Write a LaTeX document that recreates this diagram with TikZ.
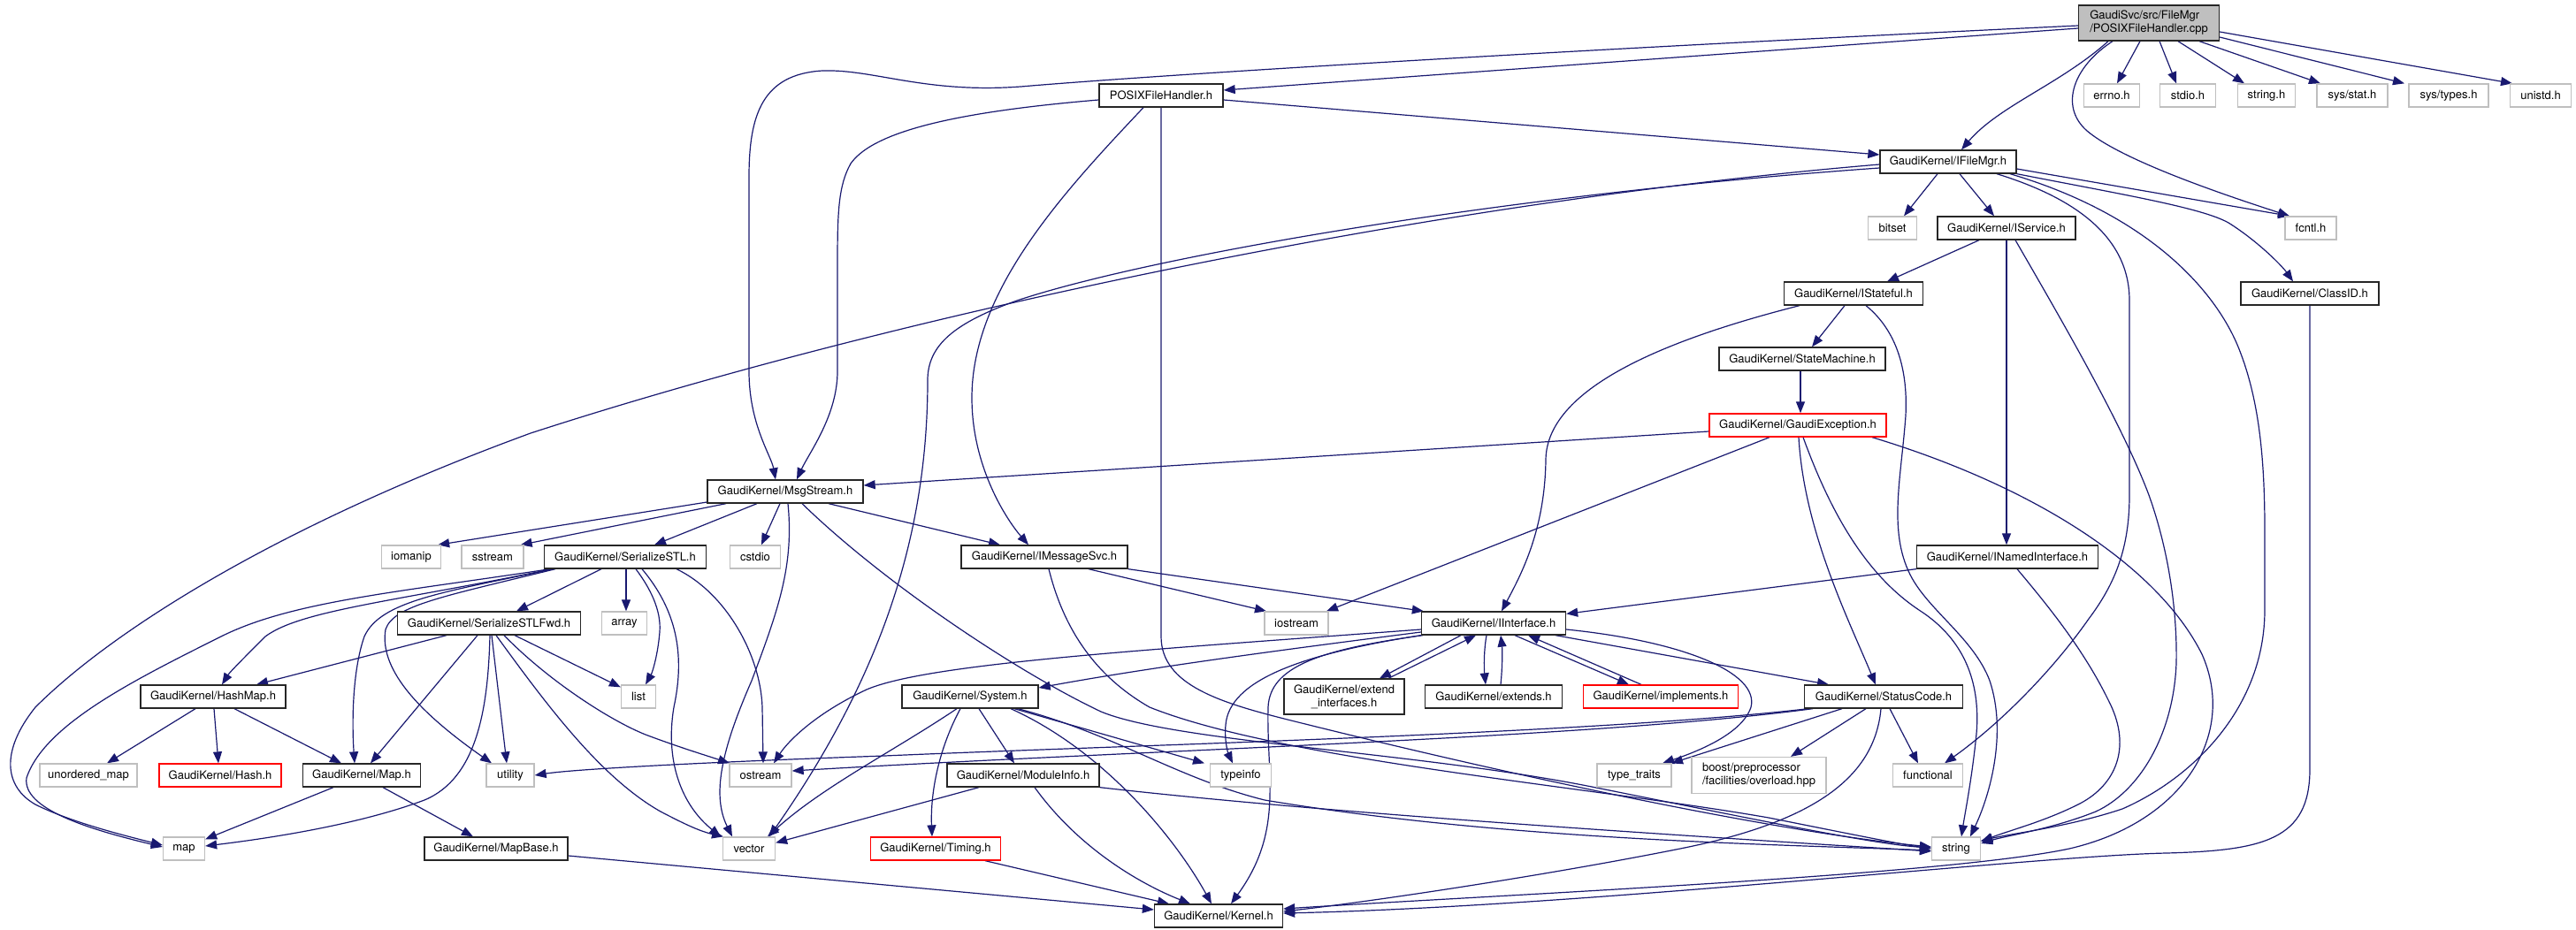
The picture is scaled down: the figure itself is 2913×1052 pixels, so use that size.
\documentclass[tikz,border=0pt]{standalone}
\usepackage{fontspec}
\setmainfont{TeX Gyre Heros}
\usetikzlibrary{arrows.meta}
\definecolor{edgec}{HTML}{191970}
\definecolor{sysbd}{HTML}{BFBFBF}
\definecolor{rootfill}{HTML}{BFBFBF}
\definecolor{redbd}{HTML}{FF0000}
\pgfdeclarelayer{bg}
\pgfsetlayers{bg,main}
\begin{document}
\begin{tikzpicture}[x=1pt,y=-1pt,
  box/.style={draw, line width=1.3pt, inner sep=0pt, minimum height=26pt, fill=white,
    font=\fontsize{13}{15}\selectfont, text=black},
  blk/.style={box, draw=black!85},
  sys/.style={box, draw=sysbd},
  redbox/.style={box, draw=redbd},
  rootbox/.style={box, draw=black!85, fill=rootfill},
  dep/.style={draw=edgec, line width=1.2pt, -{Triangle[length=13pt,width=10pt]}}
]
\useasboundingbox (0,0) rectangle (2913,1052);
\begin{pgfonlayer}{bg}
\fill[white] (0,0) rectangle (2913,1052);
\end{pgfonlayer}

% ---------- nodes ----------
\node[rootbox, minimum width=159pt, minimum height=40pt, align=left] (root) at (2430,26) {GaudiSvc/src/FileMgr\\/POSIXFileHandler.cpp};
\node[sys, minimum width=63pt] (errno) at (2388,108) {errno.h};
\node[sys, minimum width=63pt] (stdio) at (2474,108) {stdio.h};
\node[sys, minimum width=65pt] (stringh) at (2563,108) {string.h};
\node[sys, minimum width=80pt] (sysstat) at (2660,108) {sys/stat.h};
\node[sys, minimum width=90pt] (systypes) at (2769,108) {sys/types.h};
\node[sys, minimum width=69pt] (unistd) at (2873,108) {unistd.h};
\node[blk, minimum width=140pt] (posixh) at (1313,108) {POSIXFileHandler.h};
\node[blk, minimum width=154pt] (ifilemgr) at (2203,183) {GaudiKernel/IFileMgr.h};
\node[sys, minimum width=55pt] (bitset) at (2140,258) {bitset};
\node[blk, minimum width=156pt] (iservice) at (2269,258) {GaudiKernel/IService.h};
\node[sys, minimum width=58pt] (fcntl) at (2613,258) {fcntl.h};
\node[blk, minimum width=157pt] (istateful) at (2096,332) {GaudiKernel/IStateful.h};
\node[blk, minimum width=156pt] (classid) at (2612,332) {GaudiKernel/ClassID.h};
\node[blk, minimum width=188pt] (statemachine) at (2038,406) {GaudiKernel/StateMachine.h};
\node[redbox, minimum width=200pt] (gexc) at (2033,481) {GaudiKernel/GaudiException.h};
\node[blk, minimum width=176pt] (msgstream) at (888,556) {GaudiKernel/MsgStream.h};
\node[sys, minimum width=67pt] (iomanip) at (465,630) {iomanip};
\node[sys, minimum width=70pt] (sstream) at (557,630) {sstream};
\node[blk, minimum width=183pt] (serialstl) at (707,630) {GaudiKernel/SerializeSTL.h};
\node[sys, minimum width=57pt] (cstdio) at (854,630) {cstdio};
\node[blk, minimum width=188pt] (imsgsvc) at (1181,630) {GaudiKernel/IMessageSvc.h};
\node[blk, minimum width=205pt] (inamed) at (2270,630) {GaudiKernel/INamedInterface.h};
\node[blk, minimum width=207pt] (serialfwd) at (553,705) {GaudiKernel/SerializeSTLFwd.h};
\node[sys, minimum width=51pt] (array) at (706,705) {array};
\node[sys, minimum width=72pt] (iostream) at (1466,705) {iostream};
\node[blk, minimum width=163pt] (iinterface) at (1689,705) {GaudiKernel/IInterface.h};
\node[blk, minimum width=164pt] (hashmap) at (241,788) {GaudiKernel/HashMap.h};
\node[sys, minimum width=39pt] (list) at (722,788) {list};
\node[blk, minimum width=154pt] (system) at (1097,788) {GaudiKernel/System.h};
\node[blk, minimum width=136pt, minimum height=40pt, align=center] (extendif) at (1520,788) {GaudiKernel/extend\\\_interfaces.h};
\node[blk, minimum width=155pt] (extends) at (1689,788) {GaudiKernel/extends.h};
\node[redbox, minimum width=175pt] (implements) at (1878,788) {GaudiKernel/implements.h};
\node[blk, minimum width=179pt] (statuscode) at (2130,788) {GaudiKernel/StatusCode.h};
\node[sys, minimum width=110pt] (unordered) at (100,877) {unordered\_map};
\node[redbox, minimum width=138pt] (hash) at (249,877) {GaudiKernel/Hash.h};
\node[blk, minimum width=133pt] (maph) at (409,877) {GaudiKernel/Map.h};
\node[sys, minimum width=54pt] (utility) at (577,877) {utility};
\node[sys, minimum width=70pt] (ostream) at (860,877) {ostream};
\node[blk, minimum width=172pt] (moduleinfo) at (1157,877) {GaudiKernel/ModuleInfo.h};
\node[sys, minimum width=69pt] (typeinfo) at (1403,877) {typeinfo};
\node[sys, minimum width=84pt] (typetraits) at (1848,877) {type\_traits};
\node[sys, minimum width=152pt, minimum height=41pt, align=left] (boost) at (1989,877) {boost/preprocessor\\/facilities/overload.hpp};
\node[sys, minimum width=79pt] (functional) at (2180,877) {functional};
\node[sys, minimum width=47pt] (map) at (208,960) {map};
\node[blk, minimum width=162pt] (mapbase) at (561,960) {GaudiKernel/MapBase.h};
\node[sys, minimum width=59pt] (vector) at (847,960) {vector};
\node[redbox, minimum width=147pt] (timing) at (1058,960) {GaudiKernel/Timing.h};
\node[sys, minimum width=55pt] (stringn) at (2212,960) {string};
\node[blk, minimum width=145pt] (kernel) at (1378,1036) {GaudiKernel/Kernel.h};

% ---------- edges ----------
\begin{pgfonlayer}{bg}
% root
\draw[dep] ([yshift=-6pt]root.west) -- ([yshift=6pt]posixh.east);
\draw[dep] ([yshift=-3pt]root.west) .. controls (1800,55) and (1350,82) .. (1166,97) .. controls (1050,108) and (990,78) .. (930,80) .. controls (862,84) and (847,130) .. (847,200) -- (847,420) .. controls (847,480) and (872,515) .. ([xshift=-11pt]msgstream.north);
\draw[dep] ([xshift=-46pt]root.south) .. controls (2330,95) and (2260,120) .. ([xshift=15pt]ifilemgr.north);
\draw[dep] ([xshift=-41pt]root.south) .. controls (2345,75) and (2328,120) .. (2360,148) .. controls (2400,182) and (2520,222) .. ([xshift=-24pt]fcntl.north);
\draw[dep] ([xshift=-10pt]root.south) -- ([xshift=6pt]errno.north);
\draw[dep] ([xshift=12pt]root.south) -- ([xshift=-13pt]stdio.north);
\draw[dep] ([xshift=33pt]root.south) -- ([xshift=-25pt]stringh.north);
\draw[dep] ([xshift=57pt]root.south) -- ([xshift=-36pt]sysstat.north);
\draw[dep] ([yshift=-16pt]root.east) -- ([xshift=-50pt]systypes.north);
\draw[dep] ([yshift=-10pt]root.east) -- ([xshift=-32pt]unistd.north);
% POSIXFileHandler.h
\draw[dep] ([yshift=-5pt]posixh.west) .. controls (1100,125) and (990,145) .. (962,185) .. controls (948,210) and (947,240) .. (947,300) -- (947,420) .. controls (947,470) and (915,512) .. ([xshift=13pt]msgstream.north);
\draw[dep] ([xshift=-20pt]posixh.south) .. controls (1200,220) and (1099,330) .. (1099,450) .. controls (1099,530) and (1140,590) .. ([xshift=-18pt]imsgsvc.north);
\draw[dep] (posixh.south) -- (1313,720) .. controls (1313,775) and (1380,795) .. (1460,815) .. controls (1700,875) and (2000,940) .. ([yshift=2pt]stringn.west);
\draw[dep] ([yshift=-5pt]posixh.east) -- ([yshift=8pt]ifilemgr.west);
% IFileMgr.h
\draw[dep] ([xshift=-12pt]ifilemgr.south) -- ([xshift=13pt]bitset.north);
\draw[dep] ([xshift=13pt]ifilemgr.south) -- ([xshift=-14pt]iservice.north);
\draw[dep] ([yshift=-8pt]ifilemgr.east) -- ([xshift=-24pt]fcntl.north);
\draw[dep] (ifilemgr.south east) .. controls (2400,220) and (2490,235) .. (2520,252) .. controls (2552,272) and (2580,300) .. ([xshift=-19pt]classid.north);
\draw[dep] ([xshift=55pt]ifilemgr.south) .. controls (2350,225) and (2408,270) .. (2408,340) -- (2408,560) .. controls (2408,620) and (2392,660) .. (2362,700) .. controls (2320,760) and (2260,820) .. ([xshift=19pt]functional.north);
\draw[dep] ([xshift=70pt]ifilemgr.south) .. controls (2420,240) and (2500,320) .. (2530,390) .. controls (2555,450) and (2561,520) .. (2561,600) -- (2561,690) .. controls (2561,800) and (2480,880) .. (2400,915) .. controls (2340,935) and (2280,942) .. ([yshift=9pt]stringn.east);
\draw[dep] ([yshift=-3pt]ifilemgr.west) .. controls (1600,230) and (1000,360) .. (600,490) .. controls (300,600) and (120,720) .. (40,800) .. controls (0,850) and (5,890) .. (40,910) .. controls (80,930) and (140,945) .. ([yshift=4pt]map.west);
\draw[dep] ([yshift=-7pt]ifilemgr.west) .. controls (1700,220) and (1300,290) .. (1150,340) .. controls (1080,365) and (1049,390) .. (1049,430) .. controls (1049,600) and (1000,760) .. ([xshift=23pt]vector.north);
% IService.h
\draw[dep] ([xshift=-31pt]iservice.south) -- ([xshift=38pt]istateful.north);
\draw[dep] (iservice.south) -- (iservice.south |- inamed.north);
\draw[dep] ([xshift=10pt]iservice.south) .. controls (2330,360) and (2400,480) .. (2430,560) .. controls (2455,630) and (2462,700) .. (2461,750) .. controls (2458,830) and (2420,895) .. (2370,918) .. controls (2320,938) and (2270,945) .. ([yshift=6pt]stringn.east);
% IStateful.h
\draw[dep] ([xshift=-61pt]istateful.south) .. controls (1880,385) and (1749,440) .. (1748,520) .. controls (1747,600) and (1720,650) .. ([xshift=9pt]iinterface.north);
\draw[dep] ([xshift=-10pt]istateful.south) -- ([xshift=11pt]statemachine.north);
\draw[dep] ([xshift=14pt]istateful.south) .. controls (2140,370) and (2158,410) .. (2155,470) .. controls (2150,540) and (2135,600) .. (2160,650) .. controls (2180,690) and (2232,722) .. (2250,770) .. controls (2270,830) and (2250,900) .. ([xshift=16pt]stringn.north);
% StateMachine.h
\draw[dep] ([xshift=-2pt]statemachine.south) -- ([xshift=3pt]gexc.north);
% GaudiException.h
\draw[dep] ([yshift=-7pt]gexc.west) -- ([yshift=7pt]msgstream.east);
\draw[dep] ([xshift=-32pt]gexc.south) -- ([xshift=34pt]iostream.north);
\draw[dep] ([xshift=1pt]gexc.south) .. controls (2040,600) and (2090,700) .. ([xshift=-9pt]statuscode.north);
\draw[dep] ([xshift=6pt]gexc.south) .. controls (2070,580) and (2110,650) .. (2170,690) .. controls (2220,722) and (2240,770) .. (2235,830) .. controls (2230,880) and (2222,920) .. ([xshift=6pt]stringn.north);
\draw[dep] ([xshift=84pt]gexc.south) .. controls (2300,550) and (2440,640) .. (2490,740) .. controls (2530,830) and (2470,930) .. (2340,960) .. controls (2200,990) and (1700,1012) .. ([yshift=8pt]kernel.east);
% ClassID.h
\draw[dep] (classid.south) -- (2612,870) .. controls (2612,950) and (2560,962) .. (2450,965) .. controls (2300,968) and (1800,1025) .. ([yshift=3pt]kernel.east);
% MsgStream.h
\draw[dep] ([yshift=-12pt]msgstream.west) -- ([xshift=-4pt]iomanip.north east);
\draw[dep] ([xshift=-67pt]msgstream.south) -- ([xshift=-4pt]sstream.north east);
\draw[dep] ([xshift=-32pt]msgstream.south) -- ([xshift=33pt]serialstl.north);
\draw[dep] ([xshift=-6pt]msgstream.south) -- ([xshift=7pt]cstdio.north);
\draw[dep] ([xshift=3pt]msgstream.south) .. controls (898,640) and (880,690) .. (850,770) .. controls (815,850) and (805,900) .. ([xshift=-19pt]vector.north);
\draw[dep] ([xshift=19pt]msgstream.south) .. controls (1000,660) and (1150,760) .. (1245,805) .. controls (1330,840) and (1600,850) .. (1800,890) .. controls (2000,930) and (2120,955) .. ([yshift=1pt]stringn.west);
\draw[dep] ([xshift=49pt]msgstream.south) -- ([xshift=-50pt]imsgsvc.north);
% SerializeSTL.h
\draw[dep] ([xshift=-27pt]serialstl.south) -- ([xshift=31pt]serialfwd.north);
\draw[dep] ([xshift=1pt]serialstl.south) -- ([xshift=2pt]array.north);
\draw[dep] ([xshift=12pt]serialstl.south) .. controls (735,665) and (748,690) .. (746,715) .. controls (744,740) and (738,760) .. ([xshift=8pt]list.north);
\draw[dep] ([xshift=19pt]serialstl.south) .. controls (765,690) and (775,740) .. (762,800) .. controls (752,860) and (770,910) .. ([xshift=-32pt]vector.north);
\draw[dep] ([xshift=58pt]serialstl.south) .. controls (820,670) and (860,740) .. (862,800) -- ([xshift=3pt]ostream.north);
\draw[dep] ([xshift=-85pt]serialstl.south) .. controls (450,670) and (330,680) .. (250,720) .. controls (150,770) and (50,820) .. (30,880) .. controls (25,915) and (100,938) .. ([yshift=2pt]map.west);
\draw[dep] ([xshift=-83pt]serialstl.south) .. controls (450,680) and (340,690) .. (300,720) .. controls (280,740) and (260,760) .. ([xshift=10pt]hashmap.north);
\draw[dep] ([xshift=-81pt]serialstl.south) .. controls (500,670) and (430,680) .. (412,720) .. controls (398,760) and (398,820) .. ([xshift=-8pt]maph.north);
\draw[dep] ([xshift=-79pt]serialstl.south) .. controls (500,675) and (445,685) .. (436,712) .. controls (428,760) and (480,810) .. ([xshift=-21pt]utility.north);
% SerializeSTLFwd.h
\draw[dep] ([xshift=-48pt]serialfwd.south) -- ([xshift=49pt]hashmap.north);
\draw[dep] ([xshift=-13pt]serialfwd.south) -- ([xshift=10pt]maph.north);
\draw[dep] ([xshift=1pt]serialfwd.south) .. controls (552,800) and (540,880) .. (480,905) .. controls (400,935) and (290,950) .. ([yshift=3pt]map.east);
\draw[dep] ([xshift=3pt]serialfwd.south) -- ([xshift=-4pt]utility.north);
\draw[dep] ([xshift=29pt]serialfwd.south) -- ([yshift=-3pt]list.north west);
\draw[dep] ([xshift=17pt]serialfwd.south) .. controls (620,770) and (690,815) .. (730,831) .. controls (770,846) and (800,855) .. ([xshift=-35pt]ostream.north);
\draw[dep] ([xshift=8pt]serialfwd.south) .. controls (620,800) and (680,880) .. (747,918) .. controls (770,930) and (790,940) .. ([xshift=-29pt]vector.north);
% HashMap.h
\draw[dep] ([xshift=-20pt]hashmap.south) -- ([xshift=21pt]unordered.north);
\draw[dep] ([xshift=1pt]hashmap.south) -- ([xshift=-2pt]hash.north);
\draw[dep] ([xshift=24pt]hashmap.south) -- ([xshift=-23pt]maph.north);
% Map.h
\draw[dep] ([xshift=-32pt]maph.south) -- ([yshift=-3pt]map.north east);
\draw[dep] ([xshift=24pt]maph.south) -- ([xshift=-26pt]mapbase.north);
% MapBase.h
\draw[dep] ([yshift=-8pt]mapbase.east) -- ([yshift=7pt]kernel.west);
% IMessageSvc.h
\draw[dep] ([xshift=50pt]imsgsvc.south) -- ([xshift=-34pt]iostream.north);
\draw[dep] (imsgsvc.south east) -- ([xshift=3pt]iinterface.north west);
\draw[dep] ([xshift=5pt]imsgsvc.south) .. controls (1200,700) and (1230,760) .. (1300,800) .. controls (1450,860) and (1800,890) .. (2000,925) .. controls (2100,945) and (2150,955) .. (stringn.west);
% INamedInterface.h
\draw[dep] (inamed.south west) -- ([yshift=-3pt]iinterface.north east);
\draw[dep] ([xshift=11pt]inamed.south) .. controls (2320,690) and (2360,740) .. (2388,800) .. controls (2410,850) and (2390,890) .. (2350,910) .. controls (2310,930) and (2270,940) .. ([yshift=8pt]stringn.east);
% IInterface.h
\draw[dep] ([yshift=-7pt]iinterface.west) .. controls (1300,735) and (1050,750) .. (980,780) .. controls (920,808) and (890,840) .. ([xshift=15pt]ostream.north);
\draw[dep] ([yshift=-10pt]iinterface.west) .. controls (1450,735) and (1300,755) .. ([yshift=10pt]system.east);
\draw[dep] (iinterface.south west) .. controls (1470,740) and (1390,770) .. (1386,820) .. controls (1384,840) and (1390,855) .. ([xshift=-9pt]typeinfo.north);
\draw[dep] ([xshift=-80pt]iinterface.south) .. controls (1490,735) and (1436,755) .. (1434,800) .. controls (1432,880) and (1452,940) .. ([xshift=14pt]kernel.north);
\draw[dep] ([xshift=-37pt]iinterface.south) -- ([xshift=40pt]extendif.north);
\draw[dep] ([xshift=50pt]extendif.north) -- ([xshift=-20pt]iinterface.south);
\draw[dep] ([xshift=-8pt]iinterface.south) .. controls (1678,735) and (1678,755) .. ([xshift=-9pt]extends.north);
\draw[dep] ([xshift=8pt]extends.north) .. controls (1699,755) and (1699,735) .. ([xshift=8pt]iinterface.south);
\draw[dep] ([xshift=24pt]iinterface.south) -- ([xshift=-36pt]implements.north);
\draw[dep] ([xshift=-22pt]implements.north) -- ([xshift=39pt]iinterface.south);
\draw[dep] ([xshift=70pt]iinterface.south) -- ([xshift=-62pt]statuscode.north);
\draw[dep] ([yshift=-7pt]iinterface.east) .. controls (1900,725) and (1990,760) .. (1980,800) .. controls (1970,830) and (1920,850) .. ([xshift=32pt]typetraits.north);
% System.h
\draw[dep] ([xshift=-15pt]system.south) .. controls (1010,850) and (930,890) .. ([xshift=21pt]vector.north);
\draw[dep] ([xshift=-11pt]system.south) .. controls (1060,850) and (1052,900) .. ([xshift=-4pt]timing.north);
\draw[dep] ([xshift=10pt]system.south) -- ([xshift=-10pt]moduleinfo.north);
\draw[dep] ([xshift=50pt]system.south) -- ([xshift=-41pt]typeinfo.north);
\draw[dep] ([xshift=46pt]system.south) .. controls (1250,850) and (1330,950) .. ([xshift=-8pt]kernel.north);
\draw[dep] ([xshift=54pt]system.south) .. controls (1260,830) and (1330,880) .. (1430,905) .. controls (1700,950) and (2000,955) .. ([yshift=-2pt]stringn.west);
% ModuleInfo.h
\draw[dep] ([xshift=-50pt]moduleinfo.south) -- ([yshift=-7pt]vector.north east);
\draw[dep] ([xshift=13pt]moduleinfo.south) .. controls (1220,960) and (1290,1000) .. ([xshift=-32pt]kernel.north);
\draw[dep] (moduleinfo.south east) .. controls (1500,920) and (1900,945) .. ([yshift=-3pt]stringn.west);
% Timing.h
\draw[dep] ([xshift=56pt]timing.south) -- ([xshift=-56pt]kernel.north);
% StatusCode.h
\draw[dep] ([xshift=-85pt]statuscode.south) .. controls (1800,830) and (1300,842) .. (1000,855) .. controls (800,862) and (650,870) .. (utility.east);
\draw[dep] ([xshift=-80pt]statuscode.south) .. controls (1800,835) and (1300,848) .. ([yshift=5pt]ostream.east);
\draw[dep] ([xshift=-47pt]statuscode.south) -- ([xshift=42pt]typetraits.north);
\draw[dep] ([xshift=-20pt]statuscode.south) -- ([xshift=36pt]boost.north);
\draw[dep] ([xshift=7pt]statuscode.south) -- ([xshift=-11pt]functional.north);
\draw[dep] ([xshift=-3pt]statuscode.south) .. controls (2120,880) and (2050,930) .. (1900,960) .. controls (1750,990) and (1550,1020) .. ([yshift=5pt]kernel.east);
\end{pgfonlayer}
\end{tikzpicture}
\end{document}
